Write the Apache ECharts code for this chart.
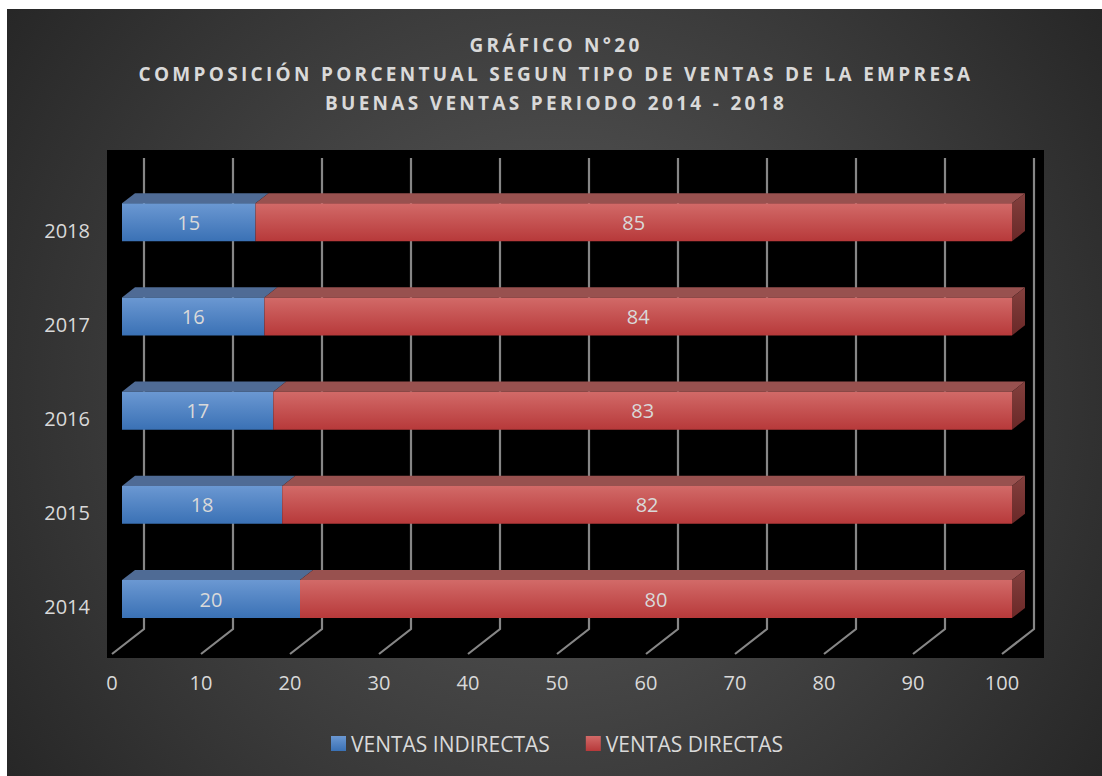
<!DOCTYPE html>
<html>
<head>
<meta charset="utf-8">
<title>Gráfico N°20</title>
<script src="https://cdn.jsdelivr.net/npm/echarts@6/dist/echarts.min.js"></script>
<style>
  html, body { margin: 0; padding: 0; background: #ffffff; }
  #chart { width: 1102px; height: 776px; }
  /* spaced-out heading letters (the heading is the only bold text) */
  #chart text[style*="bold"] { letter-spacing: 3.3px; }
</style>
</head>
<body>
<div id="chart"></div>
<script>
// ---- data ----
const years = ['2014', '2015', '2016', '2017', '2018'];
const ventasIndirectas = [20, 18, 17, 16, 15];
const ventasDirectas = [80, 82, 83, 84, 85];
const xTicks = [0, 10, 20, 30, 40, 50, 60, 70, 80, 90, 100];
const seriesNames = ['VENTAS INDIRECTAS', 'VENTAS DIRECTAS'];
const titleLines = [
  'GRÁFICO N°20',
  'COMPOSICIÓN PORCENTUAL SEGUN TIPO DE VENTAS DE LA EMPRESA',
  'BUENAS VENTAS PERIODO 2014 - 2018'
];

// ---- pseudo 3D projection ----
// depth 0 = front edge of the floor (the grid plane), depth 1 = back wall
const DEPTH_X = 32, DEPTH_Y = 25;
const BAR_FRONT = 10 / 32, BAR_BACK = 23 / 32;
const BAR_RATIO = 0.403;
const TEXT = '#d9d9d9';
const FONT = '"Open Sans", "Noto Sans", sans-serif';

const faces = {
  indirect: {
    front: { type: 'linear', x: 0, y: 0, x2: 0, y2: 1,
      colorStops: [{ offset: 0, color: '#6b98d2' }, { offset: 1, color: '#3a71b5' }] },
    top: '#4f6b95',
    side: '#33557f'
  },
  direct: {
    front: { type: 'linear', x: 0, y: 0, x2: 0, y2: 1,
      colorStops: [{ offset: 0, color: '#d26a68' }, { offset: 1, color: '#b7393a' }] },
    top: '#98514f',
    side: { type: 'linear', x: 0, y: 0, x2: 0, y2: 1,
      colorStops: [{ offset: 0, color: '#83403e' }, { offset: 1, color: '#6a2827' }] }
  }
};

// stacked segments: [start, end, categoryIndex, value]
const indirectData = years.map((y, i) => [0, ventasIndirectas[i], i, ventasIndirectas[i]]);
const directData = years.map((y, i) => [ventasIndirectas[i], ventasIndirectas[i] + ventasDirectas[i], i, ventasDirectas[i]]);
const gridData = xTicks.map(v => [v, 0]);

function barRenderer(f, withSide) {
  return function (params, api) {
    const cat = api.value(2);
    const p0 = api.coord([api.value(0), cat]);
    const p1 = api.coord([api.value(1), cat]);
    const h = api.size([0, 1])[1] * BAR_RATIO;
    const fx = DEPTH_X * BAR_FRONT, fy = DEPTH_Y * BAR_FRONT;
    const bx = DEPTH_X * (BAR_BACK - BAR_FRONT), by = DEPTH_Y * (BAR_BACK - BAR_FRONT);
    const x0 = p0[0] + fx, x1 = p1[0] + fx;
    const yc = p0[1] - fy, top = yc - h / 2, bottom = yc + h / 2;
    const children = [
      { type: 'polygon', shape: { points: [[x0, top], [x1, top], [x1 + bx, top - by], [x0 + bx, top - by]] },
        style: { fill: f.top } },
      { type: 'rect', shape: { x: x0, y: top, width: x1 - x0, height: h }, style: { fill: f.front } }
    ];
    if (withSide) {
      children.push({ type: 'polygon',
        shape: { points: [[x1, top], [x1 + bx, top - by], [x1 + bx, bottom - by], [x1, bottom]] },
        style: { fill: f.side } });
    }
    children.push({ type: 'text', style: {
      text: String(api.value(3)), x: (x0 + x1) / 2, y: yc,
      align: 'center', verticalAlign: 'middle',
      fill: TEXT, fontSize: 20, fontFamily: FONT
    } });
    return { type: 'group', children };
  };
}

function gridRenderer(params, api) {
  const cs = params.coordSys;
  const x = Math.round(api.coord([api.value(0), 0])[0]);
  const bottom = cs.y + cs.height;
  return {
    type: 'polyline',
    shape: { points: [[x + DEPTH_X, cs.y - DEPTH_Y], [x + DEPTH_X, bottom - DEPTH_Y], [x, bottom]] },
    style: { stroke: '#868686', lineWidth: 2.2, fill: null }
  };
}

const chart = echarts.init(document.getElementById('chart'), null, { renderer: 'svg' });
chart.setOption({
  animation: false,
  backgroundColor: '#ffffff',
  graphic: [
    { type: 'rect', z: -10, silent: true,
      shape: { x: 7, y: 9, width: 1095, height: 767 },
      style: { fill: { type: 'radial', x: 554, y: 392, r: 690, global: true,
        colorStops: [{ offset: 0, color: '#5c5c5c' }, { offset: 1, color: '#252525' }] } } },
    { type: 'rect', z: -9, silent: true,
      shape: { x: 107, y: 150, width: 937, height: 508 },
      style: { fill: '#000000' } },
    { type: 'text', z: 10, silent: true,
      style: { text: titleLines.join('\n'), x: 556, y: 74, align: 'center', verticalAlign: 'middle',
        fill: TEXT, fontSize: 19, fontWeight: 'bold', fontFamily: FONT, lineHeight: 29 } }
  ],
  legend: {
    data: seriesNames,
    left: 326, top: 728,
    icon: 'rect', itemWidth: 15, itemHeight: 15, itemGap: 36,
    textStyle: { color: TEXT, fontSize: 21, fontFamily: FONT }
  },
  grid: { left: 112, top: 183, width: 890, height: 471 },
  xAxis: {
    type: 'value', min: 0, max: 100, interval: 10,
    axisLine: { show: false }, axisTick: { show: false }, splitLine: { show: false },
    axisLabel: { color: TEXT, fontSize: 20, fontFamily: FONT, margin: 18 }
  },
  yAxis: {
    type: 'category', data: years,
    axisLine: { show: false }, axisTick: { show: false }, splitLine: { show: false },
    axisLabel: { color: TEXT, fontSize: 20, fontFamily: FONT, margin: 22 }
  },
  series: [
    { type: 'custom', name: 'grid', silent: true, z: 1, data: gridData,
      encode: { x: 0, y: 1 }, renderItem: gridRenderer, legendHoverLink: false },
    { type: 'custom', name: seriesNames[0], z: 2, data: indirectData,
      encode: { x: [0, 1], y: 2 }, renderItem: barRenderer(faces.indirect, false),
      itemStyle: { color: faces.indirect.front } },
    { type: 'custom', name: seriesNames[1], z: 2, data: directData,
      encode: { x: [0, 1], y: 2 }, renderItem: barRenderer(faces.direct, true),
      itemStyle: { color: faces.direct.front } }
  ]
});
</script>
</body>
</html>
